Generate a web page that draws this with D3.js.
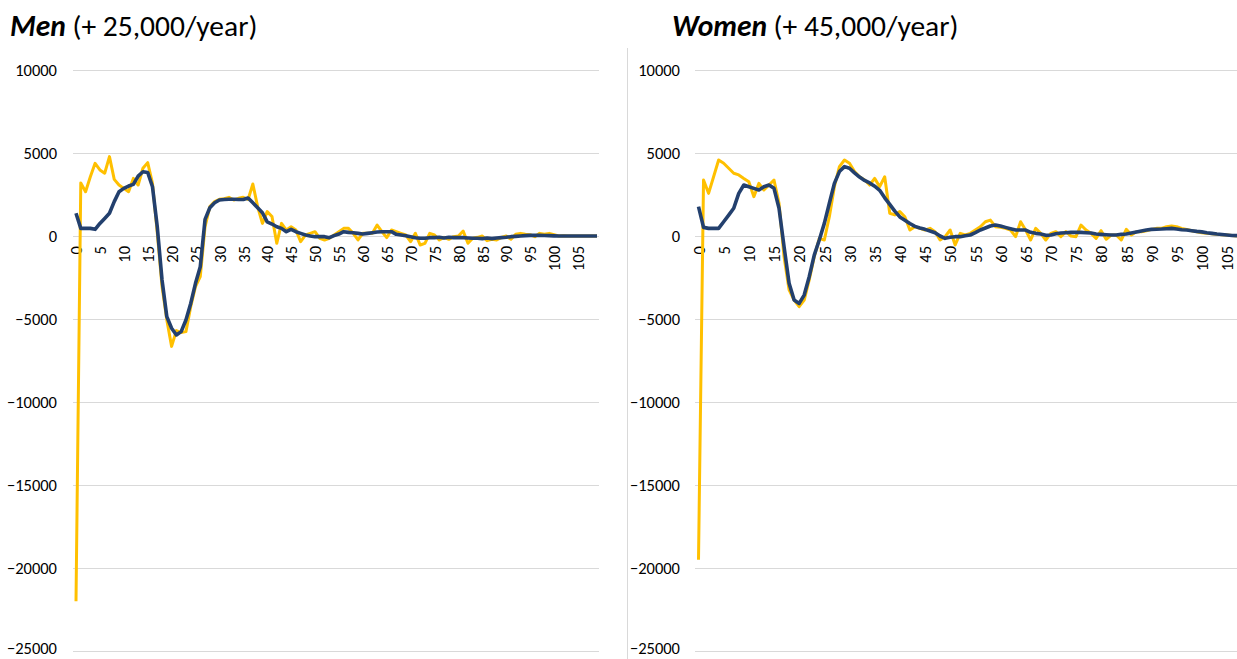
<!DOCTYPE html>
<html>
<head>
<meta charset="utf-8">
<script src="https://cdn.jsdelivr.net/npm/d3@7"></script>
<style>
  html, body { margin: 0; padding: 0; background: #ffffff; }
  svg { display: block; }
  text { font-family: Carlito, Calibri, Lato, "Open Sans", sans-serif; fill: #000; }
</style>
</head>
<body>
<svg id="chart" width="1237" height="659"></svg>
<script>
// Net migration by single year of age: annual values and smoothed trend
const menAges = d3.range(0, 110);
const menAnnual = [
  -22000, 3200, 2670, 3570, 4380, 3980, 3780, 4780, 3410, 3070,
  2870, 2670, 3470, 3070, 4080, 4420, 3170, 200, -3050, -5060,
  -6650, -5700, -5820, -5760, -4260, -3050, -2450, 560, 1770, 2070,
  2210, 2250, 2330, 2170, 2270, 2330, 2200, 3130, 1770, 760,
  1470, 1170, -440, 760, 360, 560, 360, -340, 60, 160,
  260, -140, -240, -140, 60, 260, 460, 460, 160, -240,
  160, 160, 160, 660, 260, -100, 360, 260, 160, 60,
  -340, 160, -540, -440, 160, 60, -240, -80, -200, -40,
  0, 300, -440, -140, -80, 0, -280, -200, -240, -80,
  0, -200, 100, 160, 100, 80, -40, 160, 100, 160,
  80, 0, 20, 0, 0, 0, 0, 0, 0, 0
];
const menTrend = [
  1370, 460, 460, 460, 400, 760, 1060, 1370, 2070, 2670,
  2870, 3010, 3110, 3610, 3870, 3830, 2970, 560, -2650, -4860,
  -5560, -5960, -5760, -5060, -4060, -2850, -1850, 1000, 1700, 2000,
  2170, 2200, 2210, 2210, 2200, 2200, 2290, 2000, 1700, 1400,
  850, 720, 560, 460, 260, 400, 260, 160, 60, 0,
  -40, -40, -40, -100, 20, 120, 260, 220, 200, 160,
  120, 160, 200, 240, 260, 260, 260, 100, 60, 20,
  -40, -100, -140, -140, -100, -100, -80, -120, -80, -100,
  -100, -100, -120, -140, -140, -160, -120, -160, -120, -100,
  -80, -40, -20, 0, 20, 40, 40, 40, 30, 20,
  10, 0, 0, 0, 0, 0, 0, 0, 0, 0
];

const womenAges = d3.range(0, 108);
const womenAnnual = [
  -19500, 3370, 2570, 3570, 4580, 4380, 4080, 3780, 3680, 3470,
  3270, 2370, 3170, 2770, 3070, 3370, 1970, -1250, -3250, -3860,
  -4260, -3860, -2650, -1250, -140, -240, 1160, 2970, 4180, 4580,
  4380, 3880, 3570, 3370, 3070, 3470, 2970, 3570, 1370, 1270,
  1470, 1160, 360, 560, 460, 360, 460, 260, -240, -40,
  360, -540, 160, 60, 160, 360, 560, 860, 960, 560,
  520, 460, 360, -40, 860, 360, -240, 460, 160, -240,
  160, 260, -40, 260, 0, -40, 660, 360, 160, -140,
  320, -200, 60, 60, -240, 400, 60, 260, 260, 320,
  400, 460, 460, 560, 600, 560, 460, 400, 320, 260,
  200, 160, 140, 100, 80, 60, 30, 0
];
const womenTrend = [
  1770, 520, 460, 460, 460, 860, 1260, 1670, 2570, 3070,
  2970, 2870, 2770, 2970, 3070, 2870, 1670, -640, -2850, -3860,
  -4060, -3560, -2450, -1150, -240, 760, 1970, 3170, 3880, 4180,
  4080, 3800, 3550, 3350, 3200, 3000, 2750, 2300, 1900, 1500,
  1150, 950, 750, 580, 480, 400, 300, 200, 0, -140,
  -80, -40, -40, 20, 60, 200, 360, 480, 600, 660,
  600, 520, 440, 360, 360, 360, 220, 160, 120, 40,
  60, 140, 180, 200, 220, 220, 220, 200, 180, 120,
  100, 80, 60, 60, 100, 120, 180, 240, 300, 360,
  400, 410, 420, 440, 460, 420, 380, 360, 320, 280,
  250, 200, 160, 120, 90, 60, 30, 20
];

const yTicks = [10000, 5000, 0, -5000, -10000, -15000, -20000, -25000];
const ageLabelStep = 5;

const COLORS = { annual: "#FFC000", trend: "#23406E", grid: "#D9D9D9" };
const TICK_FONT = 16.5;
const TITLE_FONT = 29.5;

const svg = d3.select("#chart");
svg.append("rect").attr("width", 1237).attr("height", 659).attr("fill", "#fff");

// Divider between the two panels
svg.append("line")
  .attr("x1", 627.5).attr("x2", 627.5).attr("y1", 48).attr("y2", 659)
  .attr("stroke", COLORS.grid).attr("stroke-width", 1);

function panel(cfg) {
  const g = svg.append("g");
  const y = d3.scaleLinear().domain([-25000, 10000]).range([651, 70]);
  const x = d3.scalePoint().domain(cfg.ages).range([cfg.x0, cfg.x1]);
  const yMin = y.domain()[0];

  // Title
  const title = g.append("text")
    .attr("x", cfg.titleX).attr("y", 36)
    .attr("font-size", TITLE_FONT);
  title.append("tspan").attr("font-weight", "bold").attr("font-style", "italic").text(cfg.name);
  title.append("tspan").text(" " + cfg.note);

  // Horizontal gridlines + value labels
  const yAxis = d3.axisLeft(y).tickValues(yTicks).tickSize(0).tickPadding(0)
    .tickFormat(d3.format("d"));
  const ya = g.append("g").attr("transform", `translate(${cfg.labelRight},0)`).call(yAxis);
  ya.select(".domain").remove();
  ya.selectAll("text").attr("font-size", TICK_FONT).attr("font-family", null).attr("fill", "#000")
    .attr("dy", d => d === yMin ? "0.16em" : "0.32em"); // keep the lowest label inside the frame

  g.append("g").selectAll("line").data(yTicks).join("line")
    .attr("x1", cfg.gridX0).attr("x2", cfg.gridX1)
    .attr("y1", d => Math.round(y(d)) + 0.5).attr("y2", d => Math.round(y(d)) + 0.5)
    .attr("stroke", COLORS.grid).attr("stroke-width", 1);

  // Age labels, rotated, just under the zero line
  const xAxis = d3.axisBottom(x)
    .tickValues(cfg.ages.filter(a => a % ageLabelStep === 0))
    .tickSize(0).tickPadding(0);
  const xa = g.append("g").attr("transform", `translate(0,${y(0)})`).call(xAxis);
  xa.select(".domain").remove();
  xa.selectAll("text")
    .attr("font-size", TICK_FONT).attr("font-family", null).attr("fill", "#000")
    .attr("transform", "translate(0,10) rotate(-90)")
    .attr("text-anchor", "end").attr("dy", "0.35em").attr("x", 0).attr("y", 0);

  const line = d3.line().x((d, i) => x(cfg.ages[i])).y(d => y(d));

  g.append("path").datum(cfg.annual)
    .attr("d", line).attr("fill", "none")
    .attr("stroke", COLORS.annual).attr("stroke-width", 3)
    .attr("stroke-linejoin", "round");
  g.append("path").datum(cfg.trend)
    .attr("d", line).attr("fill", "none")
    .attr("stroke", COLORS.trend).attr("stroke-width", 3.6)
    .attr("stroke-linejoin", "round");
}

panel({
  name: "Men", note: "(+ 25,000/year)", titleX: 10,
  ages: menAges, annual: menAnnual, trend: menTrend,
  x0: 76, x1: 597, gridX0: 73, gridX1: 599, labelRight: 57
});
panel({
  name: "Women", note: "(+ 45,000/year)", titleX: 672,
  ages: womenAges, annual: womenAnnual, trend: womenTrend,
  x0: 698.5, x1: 1237, gridX0: 695, gridX1: 1237, labelRight: 680
});
</script>
</body>
</html>
